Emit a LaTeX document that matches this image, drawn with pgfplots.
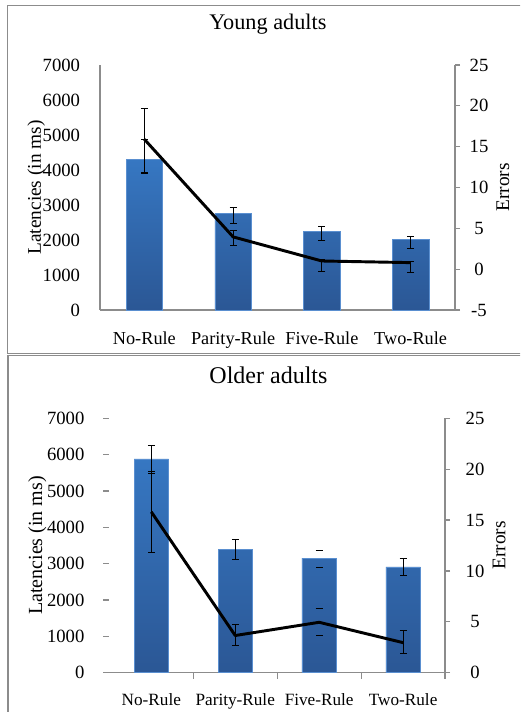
\documentclass[border=0pt]{standalone}
\usepackage{pgfplots}
\pgfplotsset{compat=1.18}
\usepackage{pgfplotstable}
\usepackage{fontspec}
\setmainfont{Liberation Serif}

\definecolor{axgray}{HTML}{8C8C8C}
\definecolor{bartop}{HTML}{3677C2}
\definecolor{barbot}{HTML}{2B5795}
\definecolor{baredge}{HTML}{5A8FD0}

% Young adults: latencies (ms) with error bars (plus / minus)
\pgfplotstableread{
x y ep em
0 4300 560 400
1 2770 160 290
2 2240 140 240
3 2020 75 255
}\youngbars
% Young adults: errors
\pgfplotstableread{
x y ep em
0 15.9 3.8 4.0
1 3.95 0.75 1.0
2 1.0 0.2 1.3
3 0.8 0.1 1.2
}\younglines
% Older adults: latencies
\pgfplotstableread{
x y ep em
0 5880 360 385
1 3400 265 285
2 3150 210 265
3 2910 240 220
}\olderbars
\pgfplotstableread{
x y ep em
0 5880 360 385
1 3400 265 285
3 2910 240 220
}\olderbarsA
\pgfplotstableread{
x y ep em
2 3150 210 265
}\olderbarsB
% Older adults: errors
\pgfplotstableread{
x y
0 15.8
1 3.65
2 4.95
3 2.95
}\olderlines
\pgfplotstableread{
x y ep em
0 15.8 3.95 3.95
1 3.65 1.05 1.0
3 2.95 1.2 1.05
}\olderlinesA
\pgfplotstableread{
x y ep em
2 4.95 1.35 1.3
}\olderlinesB

\pgfplotsset{
  base/.style={scale only axis, xmin=-0.5, xmax=3.5, clip=false,
    /pgf/number format/assume math mode=true,
    /pgf/number format/1000 sep={},
    tick label style={font=\fontsize{14}{16}\selectfont},
    axis line style={axgray, line width=0.9pt},
    tick style={axgray, line width=0.9pt},
    tick align=outside},
  barplot/.style={ybar, bar width=0.41, bar shift=0pt, draw=baredge, line width=0.4pt,
    top color=bartop, bottom color=barbot},
  errs/.style={draw=none, mark=none, forget plot,
    error bars/.cd, y dir=both, y explicit,
    error bar style={draw=black, line width=0.6pt},
    error mark options={draw=black, rotate=90, mark size=2.6pt, line width=0.6pt}},
  capsonly/.style={draw=none, mark=none, forget plot,
    error bars/.cd, y dir=both, y explicit,
    error bar style={draw=white, draw opacity=0, line width=0.01pt},
    error mark options={draw=black, draw opacity=1, rotate=90, mark size=2.6pt, line width=0.6pt}},
  lineplot/.style={black, line width=2.2pt, mark=none, line join=round},
}

\begin{document}
\begin{tikzpicture}
\useasboundingbox (0,0) rectangle (390pt,534pt);
\begin{scope}
\clip (0,0) rectangle (390pt,534pt);
\draw[axgray, line width=1.1pt] (392pt,529.7pt) -- (5.8pt,529.7pt) -- (5.8pt,269.0pt) -- (392pt,269.0pt);
\draw[axgray, line width=1.1pt] (392pt,267.3pt) -- (6pt,267.3pt) -- (6pt,-2pt);
\end{scope}

% ---------------- Young adults ----------------
\begin{axis}[base, at={(75pt,301.5pt)}, anchor=south west,
  width=266.25pt, height=183.75pt,
  ymin=0, ymax=7000, ytick={0,1000,...,7000},
  axis x line*=bottom, axis y line*=left,
  xtick=\empty, ytick style={draw=none},
  yticklabel style={anchor=east, inner sep=0pt, xshift=-10.5pt},
  ylabel={Latencies (in ms)},
  ylabel style={at={(axis description cs:-0.18,0.5)}, anchor=center, font=\fontsize{14.5}{16}\selectfont},
  title={Young adults},
  title style={at={(axis description cs:0.473,1.135)}, anchor=center, font=\fontsize{16.7}{19}\selectfont}]
\addplot[barplot] table[x=x, y=y]{\youngbars};
\addplot[errs] table[x=x, y=y, y error plus=ep, y error minus=em]{\youngbars};
\end{axis}
\begin{axis}[base, at={(75pt,301.5pt)}, anchor=south west,
  width=266.25pt, height=183.75pt,
  ymin=-5, ymax=25, ytick={-5,0,...,25},
  axis y line*=right, axis x line*=bottom,
  x axis line style={draw=none},
  xtick={0,1,2,3}, xticklabels={No-Rule,Parity-Rule,Five-Rule,Two-Rule},
  xtick style={draw=none}, major tick length=3.75pt,
  xticklabel style={anchor=base, yshift=-22.5pt, font=\fontsize{13.7}{16}\selectfont},
  yticklabel style={anchor=center, inner sep=0pt, xshift=14.25pt},
  ylabel={Errors},
  ylabel style={at={(axis description cs:1.135,0.5)}, anchor=center, font=\fontsize{14.5}{16}\selectfont}]
\addplot[errs] table[x=x, y=y, y error plus=ep, y error minus=em]{\younglines};
\addplot[lineplot] table[x=x, y=y]{\younglines};
\end{axis}

% ---------------- Older adults ----------------
\begin{axis}[base, at={(82pt,29.5pt)}, anchor=south west,
  width=251.8pt, height=190.8pt,
  ymin=0, ymax=7000, ytick={0,1000,...,7000},
  axis x line*=bottom, axis y line*=left,
  y axis line style={draw=none},
  xtick={0.5,1.5,2.5,3.5}, xticklabels={,,,},
  major tick length=4.5pt,
  yticklabel style={anchor=east, inner sep=0pt, xshift=-14pt},
  ylabel={Latencies (in ms)},
  ylabel style={at={(axis description cs:-0.2145,0.5)}, anchor=center, font=\fontsize{15}{17}\selectfont},
  title={Older adults},
  title style={at={(axis description cs:0.474,1.139)}, anchor=center, font=\fontsize{18}{21}\selectfont}]
\addplot[barplot] table[x=x, y=y]{\olderbars};
\addplot[errs] table[x=x, y=y, y error plus=ep, y error minus=em]{\olderbarsA};
\addplot[capsonly] table[x=x, y=y, y error plus=ep, y error minus=em]{\olderbarsB};
\end{axis}
\begin{axis}[base, at={(82pt,29.5pt)}, anchor=south west,
  width=251.8pt, height=190.8pt,
  ymin=0, ymax=25, ytick={0,5,...,25},
  axis y line*=right, axis x line*=bottom,
  x axis line style={draw=none},
  xtick={0,1,2,3}, xticklabels={No-Rule,Parity-Rule,Five-Rule,Two-Rule},
  xtick style={draw=none}, major tick length=3.75pt,
  xticklabel style={anchor=base, yshift=-20.5pt, font=\fontsize{12.9}{15}\selectfont},
  yticklabel style={anchor=center, inner sep=0pt, xshift=18.75pt},
  ylabel={Errors},
  ylabel style={at={(axis description cs:1.161,0.5)}, anchor=center, font=\fontsize{14.5}{16}\selectfont}]
\addplot[errs] table[x=x, y=y, y error plus=ep, y error minus=em]{\olderlinesA};
\addplot[capsonly] table[x=x, y=y, y error plus=ep, y error minus=em]{\olderlinesB};
\addplot[lineplot] table[x=x, y=y]{\olderlines};
\end{axis}
\end{tikzpicture}
\end{document}
